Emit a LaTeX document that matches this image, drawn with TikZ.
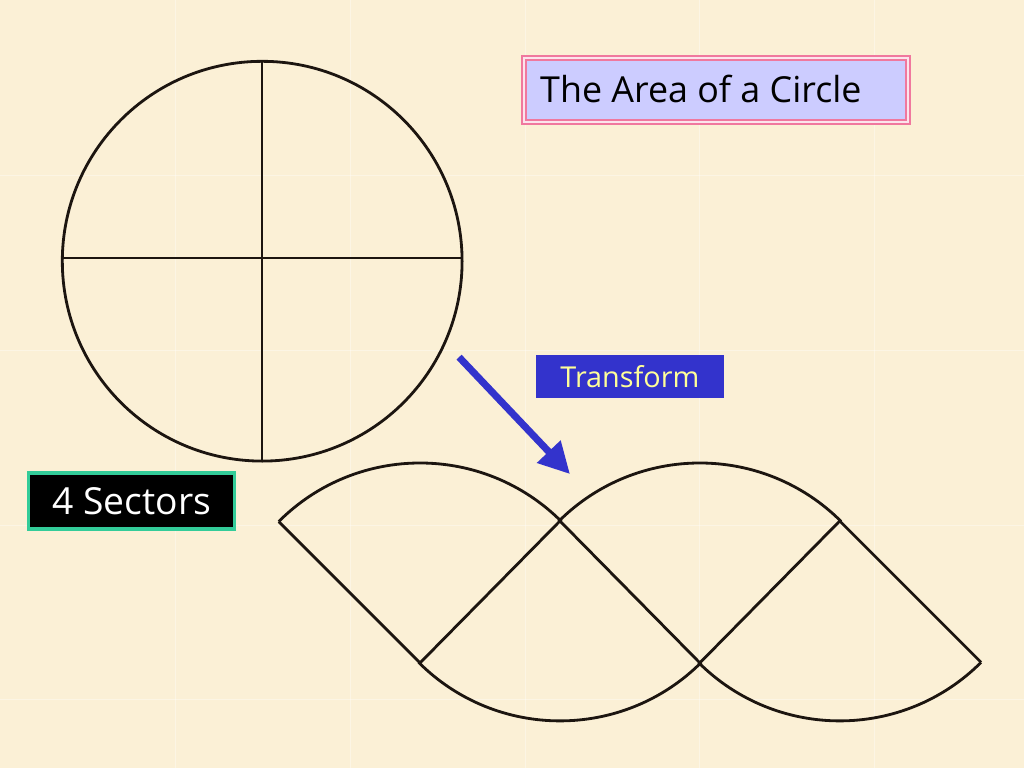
\documentclass[tikz,border=0pt]{standalone}
\usepackage{fontspec}
\setmainfont{Open Sans}
\usetikzlibrary{arrows.meta}
\definecolor{parchment}{HTML}{FBF0D6}
\definecolor{inkline}{HTML}{1C1510}
\definecolor{titlepink}{HTML}{F0789E}
\definecolor{titlefill}{HTML}{CCCCFF}
\definecolor{deepblue}{HTML}{3333CC}
\definecolor{paleyellow}{HTML}{FFFF99}
\definecolor{seagreen}{HTML}{33CC99}

\tikzset{
  figline/.style={draw=inkline, line width=2pt, line join=round},
  labelbox/.style={inner sep=0pt, align=center}
}

\begin{document}
\begin{tikzpicture}[x=0.025cm, y=0.025cm]
  \fill[parchment] (0,0) rectangle (1024,-768);
  \foreach \t in {175,350,525,700,875}
    \draw[white, opacity=0.35, line width=0.6pt] (\t,0) -- (\t,-768);
  \foreach \t in {175,350,525,700}
    \draw[white, opacity=0.35, line width=0.6pt] (0,-\t) -- (1024,-\t);

  % whole circle cut in four
  \draw[figline] (262,-261) circle[radius=5cm];
  \draw[figline, line width=1.6pt] (262,-62) -- (262,-461);
  \draw[figline, line width=1.6pt] (62,-258) -- (463,-258);

  % the four sectors laid side by side
  \foreach \ax/\ay/\sa/\ea in {420/-663/135/45, 560/-521/315/225,
                               700/-663/135/45, 840/-521/315/225}
    \draw[figline] (\ax,\ay) ++(\sa:5cm)
      arc[start angle=\sa, end angle=\ea, radius=5cm];
  \draw[figline] (278.6,-521.6) -- (420,-663) -- (560,-521) -- (700,-663)
    -- (840,-521) -- (981.4,-662.4);

  \node[
    labelbox, fill=titlefill,
    draw=titlepink, line width=1.4pt, double=white!80!titlepink, double distance=1.2pt,
    minimum width=9.6cm, minimum height=1.6cm
  ] (title) at (716,-89.5) {\hspace*{-0.75cm}\raisebox{2pt}{\fontsize{25.5}{29}\selectfont The Area of a Circle}};

  \node[
    labelbox, fill=deepblue, text=paleyellow,
    minimum width=4.7cm, minimum height=1.075cm
  ] (transform) at (630,-376.5) {\fontsize{20.5}{24}\selectfont Transform};

  \node[
    labelbox, fill=black, text=white,
    draw=seagreen, line width=2.2pt,
    minimum width=5.15cm, minimum height=1.4cm
  ] (sectors) at (131.5,-501) {\fontsize{26.5}{30}\selectfont 4 Sectors};

  \coordinate (arrtail) at (459,-357);
  \coordinate (arrhead) at (570,-474);
  \draw[deepblue, line width=5pt, -{Triangle[length=22pt, width=22pt]}]
    (arrtail) -- (arrhead);
\end{tikzpicture}
\end{document}
